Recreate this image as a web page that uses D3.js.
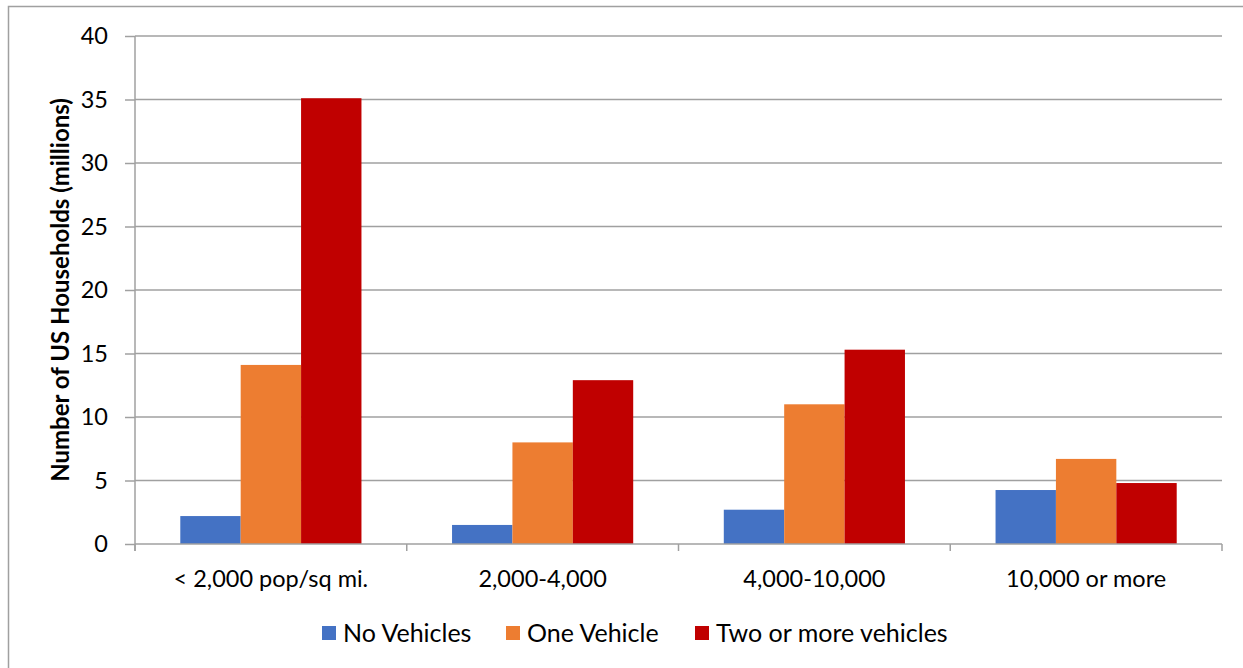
<!DOCTYPE html>
<html><head><meta charset="utf-8">
<script src="https://cdn.jsdelivr.net/npm/d3@7"></script>
<style>body{margin:0;background:#fff;} svg{display:block;font-family:Lato,"Noto Sans",sans-serif;}</style>
</head><body>
<svg id="c" width="1243" height="668"></svg>
<script>
const categories = ["< 2,000 pop/sq mi.", "2,000-4,000", "4,000-10,000", "10,000 or more"];
const seriesNames = ["No Vehicles", "One Vehicle", "Two or more vehicles"];
const noVehicles = [2.2, 1.5, 2.7, 4.25];
const oneVehicle = [14.1, 8.0, 11.0, 6.7];
const twoPlus = [35.1, 12.9, 15.3, 4.8];
const yTicks = [0, 5, 10, 15, 20, 25, 30, 35, 40];
const colors = ["#4472C4", "#ED7D31", "#C00000"];

const series = [noVehicles, oneVehicle, twoPlus];
const svg = d3.select("#c");
const L = 135, R = 1222, T = 36, B = 544;
const fs = 23.5;

// outer frame
svg.append("path").attr("d", "M8.5,668 V6.5 H1243").attr("fill", "none").attr("stroke", "#a0a0a0").attr("stroke-width", 1.5);

const x0 = d3.scaleBand().domain(categories).range([L, R]);
const y = d3.scaleLinear().domain([0, 40]).range([B, T]);

// grid
svg.append("g").selectAll("line").data(yTicks.filter(d => d > 0)).join("line")
  .attr("x1", L).attr("x2", R).attr("y1", d => y(d)).attr("y2", d => y(d))
  .attr("stroke", "#a0a0a0").attr("stroke-width", 1.5);

// bars (gap width 150%)
const groupW = x0.bandwidth() / 1.5 * 1.0;
const bw = x0.bandwidth() / 4.5;
const groups = svg.append("g").selectAll("g").data(categories).join("g")
  .attr("transform", c => `translate(${x0(c) + (x0.bandwidth() - 3 * bw) / 2},0)`);
groups.selectAll("rect").data((c, i) => series.map((s, j) => ({v: s[i], j}))).join("rect")
  .attr("x", d => d.j * bw).attr("width", bw)
  .attr("y", d => y(d.v)).attr("height", d => B - y(d.v))
  .attr("fill", d => colors[d.j]);

// y axis
const yAxis = d3.axisLeft(y).tickValues(yTicks).tickSize(10).tickPadding(17);
const gy = svg.append("g").attr("transform", `translate(${L},0)`).call(yAxis);
gy.select(".domain").attr("d", `M0,${T}V${B + 7}`).attr("stroke", "#a0a0a0").attr("stroke-width", 1.5);
gy.selectAll(".tick line").attr("stroke", "#a0a0a0").attr("stroke-width", 1.5);
gy.selectAll(".tick text").attr("font-size", fs).attr("fill", "#000").attr("font-family", "Lato");

// x axis
const xAxis = d3.axisBottom(x0).tickSize(0).tickPadding(26);
const gx = svg.append("g").attr("transform", `translate(0,${B})`).call(xAxis);
gx.select(".domain").attr("d", `M${L},0H${R}`).attr("stroke", "#a0a0a0").attr("stroke-width", 1.5);
gx.selectAll(".tick text").attr("font-size", fs).attr("fill", "#000").attr("font-family", "Lato");
svg.append("g").selectAll("line").data(categories.map(c => x0(c)).concat([R])).join("line")
  .attr("x1", d => d).attr("x2", d => d).attr("y1", B).attr("y2", B + 7)
  .attr("stroke", "#a0a0a0").attr("stroke-width", 1.5);

// y label
svg.append("text").attr("transform", `translate(69,290) rotate(-90)`)
  .attr("text-anchor", "middle").attr("font-size", 24).attr("font-weight", "bold")
  .text("Number of US Households (millions)");

// legend
const legX = [322, 506, 695];
const lg = svg.append("g").selectAll("g").data(seriesNames).join("g")
  .attr("transform", (d, i) => `translate(${legX[i]},633)`);
lg.append("rect").attr("x", 0).attr("y", -7).attr("width", 14).attr("height", 14).attr("fill", (d, i) => colors[i]);
lg.append("text").attr("x", 21).attr("y", 0).attr("dy", "0.35em").attr("font-size", 25).text(d => d);
</script>
</body></html>
